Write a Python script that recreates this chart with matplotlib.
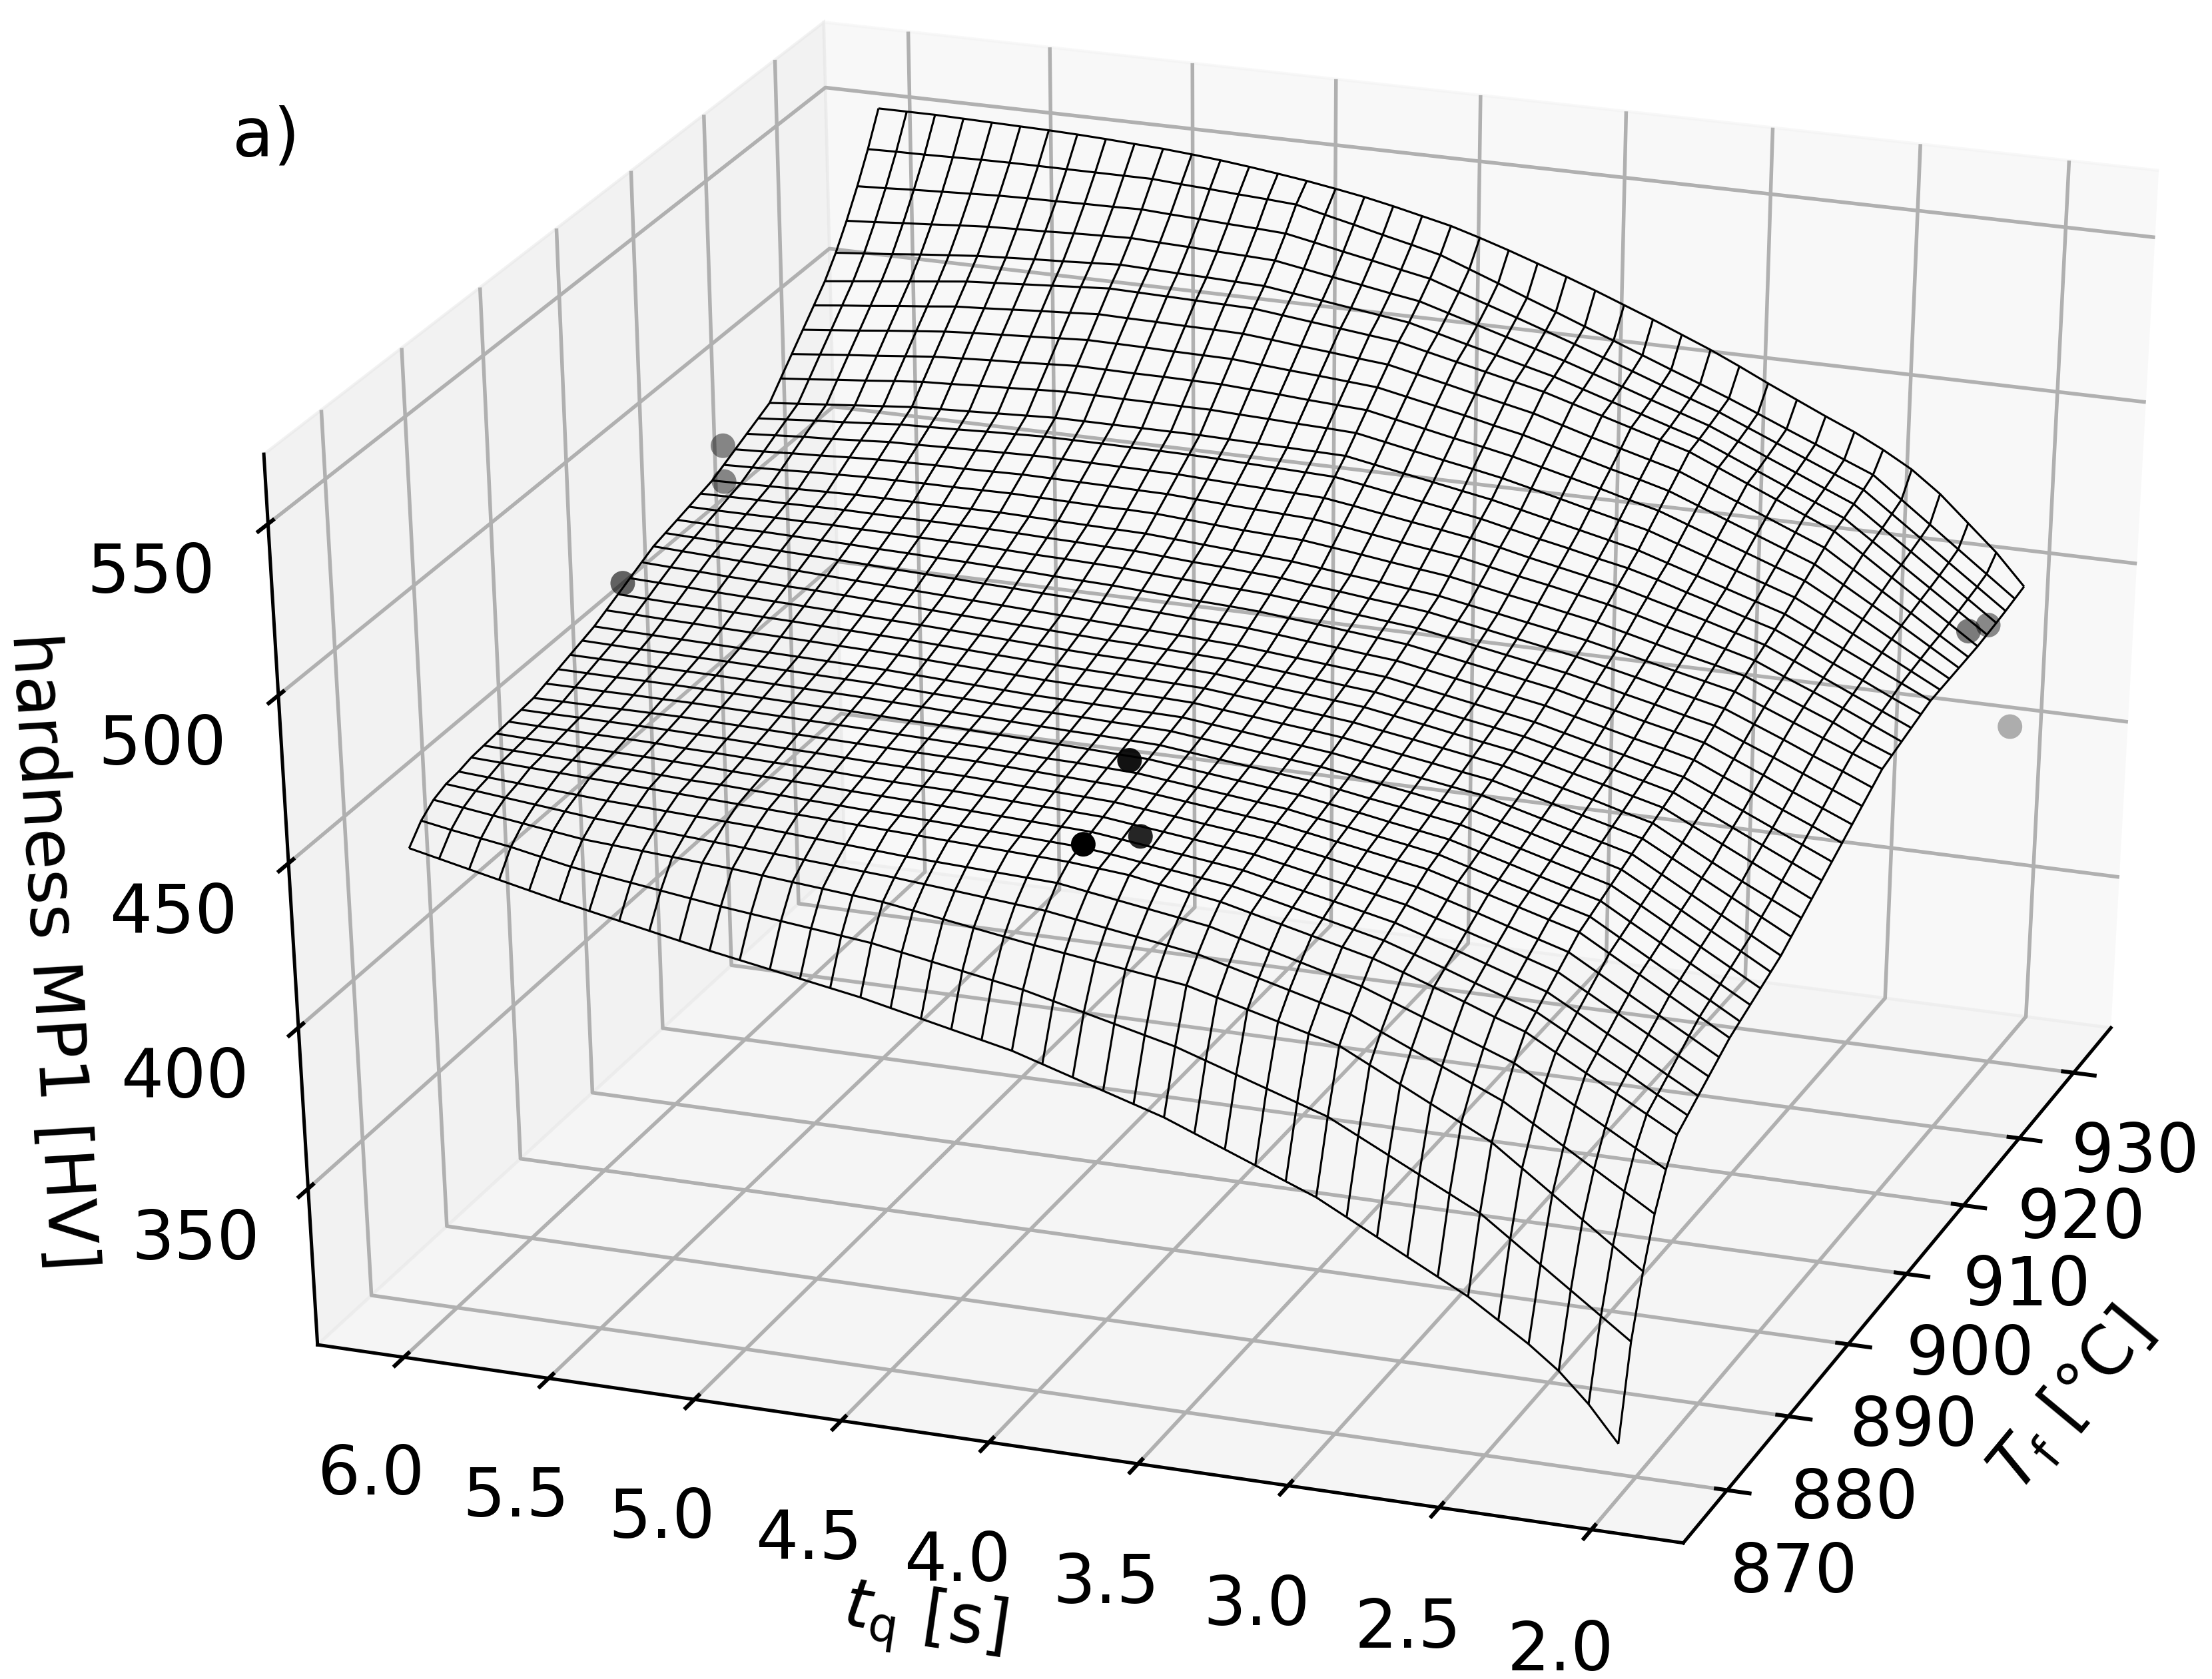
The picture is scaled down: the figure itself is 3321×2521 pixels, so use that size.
import numpy as np
import matplotlib
matplotlib.use('Agg')
import matplotlib.pyplot as plt
from matplotlib.transforms import offset_copy

plt.rcParams['grid.linewidth'] = 1.2
plt.rcParams['axes.linewidth'] = 1.1
plt.rcParams['xtick.major.width'] = 1.3
plt.rcParams['ytick.major.width'] = 1.3

# grid lines of the mesh, one row of hv_mesh per tf, one column per tq
tf = [867.0, 868.64, 870.28, 871.91, 873.55, 875.19, 876.83, 878.46, 880.1, 881.74, 883.38, 885.01, 886.65, 888.29,
      889.93, 891.56, 893.2, 894.84, 896.48, 898.11, 899.75, 901.39, 903.03, 904.66, 906.3, 907.94, 909.58, 911.21,
      912.85, 914.49, 916.13, 917.76, 919.4, 921.04, 922.68, 924.31, 925.95, 927.59, 929.23, 930.86, 932.5]
tq = [6.0, 5.9, 5.8, 5.7, 5.6, 5.5, 5.4, 5.3, 5.2, 5.1, 5.0, 4.9, 4.8, 4.7, 4.6, 4.5, 4.4, 4.3, 4.2, 4.1,
      4.0, 3.9, 3.8, 3.7, 3.6, 3.5, 3.4, 3.3, 3.2, 3.1, 3.0, 2.9, 2.8, 2.7, 2.6, 2.5, 2.4, 2.3, 2.2, 2.1, 2.0]

# hardness estimated by eye: edges and every fifth mesh line, the nodes between are rough estimates
hv_mesh = [
 [450,448,446,444,442,440,438.2,436.4,434.6,432.8,431,429.4,427.8,426.2,424.6,423,421,419,417,415,413,410.2,407.4,404.6,401.8,399,395.4,391.8,388.2,384.6,381,376.2,371.4,366.6,361.8,357,351,345,338,329,318],
 [455,453.4,452,450.6,448.8,447,445.8,444.6,443.4,442.2,441,440,439,438,437,436,434.4,432.8,431.2,429.6,428,425.8,423.6,421.4,419.2,417,414,411,408,405,402,397.4,392.8,388.2,383.6,379,372.4,365.8,359.2,352.6,346],
 [458,456.8,455.6,454.4,453.2,452,451.4,450.8,450.2,449.6,449,448.2,447.4,446.6,445.8,445,443.6,442.2,440.8,439.4,438,436.8,435.6,434.4,433.2,432,429.6,427.2,424.8,422.4,420,415.4,410.8,406.2,401.6,397,390.4,383.8,377.2,370.6,364],
 [459.5,458.6,457.7,456.8,455.9,455,454.4,453.8,453.2,452.6,452,451.4,450.8,450.2,449.6,449,448.2,447.4,446.6,445.8,445,443.6,442.2,440.8,439.4,438,435.6,433.2,430.8,428.4,426,422,418,414,410,406,400.4,394.8,389.2,383.6,378],
 [460,459.4,458.8,458.2,457.6,457,456.6,456.2,455.8,455.4,455,454.4,453.8,453.2,452.6,452,451.6,451.2,450.8,450.4,450,448.6,447.2,445.8,444.4,443,440.6,438.2,435.8,433.4,431,427.6,424.2,420.8,417.4,414,408.8,403.6,398.4,393.2,388],
 [461,460.6,460.2,459.8,459.4,459,458.6,458.2,457.8,457.4,457,456.6,456.2,455.8,455.4,455,454.6,454.2,453.8,453.4,453,452.2,451.4,449.8,448.4,447,444.8,442.6,440.4,438.2,436,433,429.8,426.6,423.2,420,415,410,405,400,395],
 [461.4,461,460.7,460.4,460.1,459.8,459.4,459,458.8,458.4,458,457.6,457.2,456.8,456.5,456.2,455.8,455.4,455,454.6,454.2,453.2,452,450.8,449.6,448.4,446.4,444.3,442.2,440.1,438,435,432,428.8,425.7,422.6,417.6,412.6,407.6,402.4,397.4],
 [461.8,461.5,461.3,461,460.8,460.6,460.3,460,459.6,459.3,459,458.7,458.3,458,457.7,457.4,457,456.6,456.2,455.8,455.4,454.3,453.2,452.1,451,449.8,447.8,445.9,444,442,440,437.1,434.2,431.2,428.2,425.2,420.2,415,410,404.8,399.8],
 [462.2,462,461.9,461.7,461.6,461.4,461,460.8,460.5,460.2,460,459.7,459.3,459,458.8,458.6,458.2,457.8,457.4,457,456.6,455.5,454.5,453.4,452.3,451.2,449.4,447.6,445.8,443.9,442,439.2,436.4,433.6,430.7,427.8,422.7,417.6,412.5,407.3,402.2],
 [462.6,462.5,462.5,462.4,462.3,462.2,462,461.8,461.5,461.2,461,460.7,460.4,460.2,460,459.8,459.4,459,458.6,458.2,457.8,456.8,455.8,454.7,453.7,452.6,451,449.4,447.6,445.8,444,441.3,438.6,435.8,433.1,430.4,425.2,420,414.9,409.8,404.6],
 [463,463,463,463,463,463,462.8,462.6,462.4,462.2,462,461.8,461.6,461.4,461.2,461,460.6,460.2,459.8,459.4,459,458,457,456,455,454,452.4,450.8,449.2,447.6,446,443.4,440.8,438.2,435.6,433,427.8,422.6,417.4,412.2,407],
 [464.2,464.2,464.1,464.1,464,464,463.8,463.6,463.4,463.2,463,462.8,462.5,462.3,462,461.8,461.4,461,460.8,460.4,460,459,458,457,456,455,453.4,451.9,450.3,448.8,447.2,444.6,442,439.5,436.9,434.4,429.2,424,418.8,413.8,408.6],
 [465.4,465.3,465.2,465.2,465.1,465,464.8,464.6,464.4,464.2,464,463.7,463.4,463.2,462.9,462.6,462.3,462,461.7,461.3,461,460,459,458,457,456,454.5,453,451.4,449.9,448.4,445.9,443.4,440.8,438.3,435.8,430.6,425.5,420.4,415.3,410.2],
 [466.6,466.5,466.4,466.2,466.1,466,465.8,465.6,465.4,465.2,465,464.7,464.4,464,463.7,463.4,463.1,462.8,462.6,462.3,462,461,460,459,458,457,455.5,454,452.6,451.1,449.6,447.2,444.7,442.2,439.7,437.2,432.2,427.1,422,416.9,411.8],
 [467.8,467.6,467.4,467.3,467.1,467,466.8,466.6,466.4,466.2,466,465.6,465.2,464.9,464.5,464.2,464,463.8,463.5,463.3,463,462,461,460,459,458,456.6,455.1,453.7,452.2,450.8,448.4,446,443.5,441.1,438.6,433.6,428.6,423.5,418.5,413.4],
 [469,468.8,468.6,468.4,468.2,468,467.8,467.6,467.4,467.2,467,466.6,466.2,465.8,465.4,465,464.8,464.6,464.4,464.2,464,463,462,461,460,459,457.6,456.2,454.8,453.4,452,449.6,447.2,444.8,442.4,440,435,430,425,420,415],
 [470.8,470.6,470.3,470.1,469.8,469.6,469.4,469.2,468.9,468.7,468.4,468,467.6,467.2,466.8,466.4,466.2,466,465.7,465.5,465.2,464.2,463.3,462.3,461.4,460.4,459,457.5,456.1,454.6,453.2,450.8,448.5,446.1,443.8,441.4,436.6,431.8,427,422.2,417.4],
 [472.6,472.3,472,471.8,471.5,471.2,471,470.7,470.4,470.1,469.8,469.4,469,468.6,468.2,467.8,467.5,467.3,467,466.7,466.4,465.5,464.6,463.6,462.7,461.8,460.3,458.9,457.4,455.9,454.4,452.2,449.9,447.6,445.1,442.8,438,433.2,428.6,424.2,419.8],
 [474.4,474.1,473.8,473.4,473.1,472.8,472.5,472.2,471.8,471.5,471.2,470.8,470.4,470,469.6,469.2,468.9,468.7,468.4,468,467.6,466.7,465.8,465,464.1,463.2,461.7,460.2,458.6,457.1,455.6,453.4,451.1,448.9,446.5,444.2,439.8,435.4,431,426.6,422.2],
 [476.2,475.8,475.5,475.1,474.8,474.4,474.2,473.8,473.4,473,472.6,472.2,471.8,471.4,471,470.6,470.2,470,469.6,469.2,468.8,468,467.2,466.3,465.4,464.6,463,461.5,459.9,458.4,456.8,454.6,452.4,450.2,447.9,445.6,441.4,437.2,433,428.8,424.6],
 [478,477.6,477.2,476.8,476.4,476,475.6,475.2,474.8,474.4,474,473.6,473.2,472.8,472.4,472,471.6,471.2,470.8,470.4,470,469.2,468.4,467.6,466.8,466,464.4,462.8,461.2,459.6,458,455.8,453.6,451.4,449.2,447,443,439,435,431,427],
 [479,478.7,478.4,478.2,477.9,477.6,477.3,477,476.6,476.3,476,475.6,475.3,474.9,474.6,474.2,473.8,473.4,472.9,472.5,472,471.2,470.3,469.5,468.6,467.8,466.2,464.6,463,461.4,459.8,457.6,455.4,453.2,451.2,449,445,441.2,437.2,433.4,429.4],
 [480,479.8,479.6,479.6,479.4,479.2,479,478.7,478.5,478.2,478,477.7,477.4,477,476.7,476.4,475.9,475.4,474.9,474.5,474,473.1,472.3,471.4,470.5,469.6,468,466.4,464.8,463.2,461.6,459.4,457.4,455.2,453.2,451,447.2,443.4,439.4,435.6,431.8],
 [481,480.9,480.9,480.9,480.8,480.8,480.6,480.5,480.3,480.2,480,479.7,479.4,479.2,478.9,478.6,478,477.5,477,476.5,476,475.1,474.2,473.2,472.3,471.4,469.8,468.2,466.6,465,463.4,461.4,459.2,457.2,455,453,449.2,445.6,441.8,438,434.2],
 [482,482.1,482.2,482.2,482.3,482.4,482.3,482.2,482.2,482.1,482,481.8,481.5,481.3,481,480.8,480.2,479.6,479.2,478.6,478,477,476.1,475.1,474.2,473.2,471.6,470,468.4,466.8,465.2,463.2,461.2,459,457,455,451.4,447.8,444,440.4,436.6],
 [483,483.2,483.4,483.6,483.8,484,484,484,484,484,484,483.8,483.6,483.4,483.2,483,482.4,481.8,481.2,480.6,480,479,478,477,476,475,473.4,471.8,470.2,468.6,467,465,463,461,459,457,453.4,449.8,446.2,442.6,439],
 [484.8,485.1,485.4,485.8,486.1,486.4,486.5,486.6,486.6,486.7,486.8,486.6,486.4,486.2,486.2,486,485.4,484.8,484.2,483.8,483.4,482.3,481.2,480,478.9,477.8,476.1,474.4,472.8,471.1,469.4,467.2,465,462.8,460.8,458.6,455,451.4,447.8,443.6,440],
 [486.6,487,487.5,487.9,488.4,488.8,489,489.2,489.2,489.4,489.6,489.5,489.4,489.3,489.1,489,488.5,488,487.6,487.2,486.8,485.6,484.3,483,481.8,480.6,478.8,477,475.4,473.6,471.8,469.6,467.2,465,462.6,460.2,456.4,452.8,449,445,441],
 [488.4,489,489.6,490,490.6,491.2,491.4,491.7,491.9,492.2,492.4,492.4,492.3,492.2,492.1,492,491.6,491.2,490.9,490.6,490.2,488.9,487.5,486.1,484.8,483.4,481.6,479.6,477.8,476,474.2,471.8,469.4,467,464.4,461.8,458,454,450,446,442],
 [490.2,490.9,491.6,492.2,492.9,493.6,493.9,494.2,494.6,494.9,495.2,495.2,495.2,495.1,495.1,495,494.8,494.5,494.2,493.9,493.6,492.2,490.7,489.2,487.7,486.2,484.2,482.2,480.4,478.4,476.6,474.2,471.4,468.8,466,463.4,459.4,455.2,451.2,447,443],
 [492,492.8,493.6,494.4,495.2,496,496.4,496.8,497.2,497.6,498,498,498,498,498,498,497.8,497.6,497.4,497.2,497,495.4,493.8,492.2,490.6,489,487,485,483,481,479,476.2,473.4,470.6,467.8,465,460.8,456.6,452.4,448.2,444],
 [496.6,497.4,498.3,499.1,500,500.8,501.2,501.7,502.1,502.6,503,503,502.9,502.9,502.8,502.8,502.4,502.1,501.7,501.4,501,499.3,497.6,495.9,494.3,492.6,490.5,488.4,486.2,484.1,482,479,476,473,470,467,462.6,458,453.4,448.8,444.2],
 [501.2,502.1,503,503.8,504.7,505.6,506.1,506.6,507,507.5,508,507.9,507.8,507.8,507.7,507.6,507.1,506.6,506,505.5,505,503.2,501.4,499.6,498,496.2,494,491.8,489.6,487.2,485,481.8,478.6,475.4,472.2,469,464.2,459.4,454.4,449.4,444.4],
 [505.8,506.7,507.6,508.6,509.5,510.4,511,511.5,512,512.5,513,512.9,512.8,512.6,512.5,512.4,511.7,511,510.4,509.7,509,507.2,505.4,503.6,501.6,499.8,497.4,495,492.6,490.4,488,484.6,481.2,477.8,474.4,471,465.8,460.6,455.4,450,444.6],
 [510.4,511.4,512.3,513.3,514.2,515.2,515.7,516.3,516.9,517.4,518,517.8,517.7,517.5,517.4,517.2,516.4,515.5,514.7,513.8,513,511.1,509.2,507.2,505.3,503.4,500.8,498.2,495.8,493.4,491,487.4,483.8,480.2,476.6,473,467.4,461.8,456.2,450.4,444.8],
 [515,516,517,518,519,520,520.6,521.2,521.8,522.4,523,522.8,522.6,522.4,522.2,522,521,520,519,518,517,515,513,511,509,507,504.4,501.8,499.2,496.6,494,490.2,486.4,482.6,478.8,475,469,463,457,451,445],
 [520.9,521.7,522.5,523.4,524.2,525,525.5,526,526.4,526.9,527.4,527.1,526.8,526.6,526.3,526,524.8,523.6,522.4,521.2,520,517.7,515.4,513.2,510.9,508.7,505.9,503.1,500.4,497.6,494.9,491.1,487.3,483.5,479.8,476,469.9,463.8,457.7,451.6,445.5],
 [527.9,528.5,529.2,529.8,530.5,531.1,531.4,531.7,532.1,532.4,532.7,532.3,532,531.6,531.3,530.9,529.4,527.9,526.5,525,523.6,521,518.4,515.8,513.2,510.6,507.7,504.8,501.8,498.9,496,492.3,488.5,484.8,481,477.3,471,464.8,458.5,452.3,446],
 [535.7,536.1,536.6,537,537.4,537.8,538,538.1,538.3,538.4,538.6,538.1,537.7,537.2,536.8,536.3,534.6,532.8,531.1,529.3,527.6,524.6,521.7,518.8,515.8,512.8,509.7,506.6,503.4,500.3,497.2,493.5,489.8,486.1,482.4,478.7,472.3,465.9,459.4,453,446.6],
 [544.3,544.5,544.6,544.8,545,545.1,545.1,545.1,545.1,545.1,545.1,544.5,544,543.4,542.9,542.3,540.2,538.2,536.1,534.1,532,528.7,525.4,522,518.7,515.3,512,508.6,505.2,501.9,498.5,494.9,491.2,487.6,483.9,480.3,473.7,467.1,460.5,453.9,447.3],
 [554,554,554,553.8,553.6,553.4,553.2,552.9,552.5,552,551.5,550.8,550,549,547.9,546.7,545.3,543.8,542,540,538,535.4,532.6,529.6,526.6,523.4,520,516.6,513,509.4,505.4,501.2,497.2,493.2,489.4,485,480,473.5,465.5,457.5,448],
]

# measured points
pt_tf = [894, 908, 908, 883.5, 876, 885, 921.4, 925, 930]
pt_tq = [5.96, 5.96, 5.96, 3.99, 3.97, 3.99, 1.98, 1.98, 1.98]
pt_hv = [478, 494, 483, 467, 457, 441, 455.5, 450.5, 409]
pt_alpha = [0.6, 0.45, 0.45, 0.93, 1.0, 0.85, 0.5, 0.45, 0.3]

fig = plt.figure(figsize=(3321 / 330, 2521 / 330), dpi=330)
ax = fig.add_axes([-0.0006, 0.0307, 1.092, 1.0095], projection='3d')
ax.set_box_aspect((1, 1, 1))
ax.apply_aspect = lambda position=None: None  # stretch the box to the whole rectangle
ax.computed_zorder = False

X, Y = np.meshgrid(tf, tq, indexing='ij')
ax.plot_wireframe(X, Y, np.array(hv_mesh), color='k', lw=0.68, rcount=41, ccount=41, zorder=2)
ax.scatter(pt_tf, pt_tq, pt_hv, s=65, linewidths=0, depthshade=False, zorder=3,
           c=[(0, 0, 0, al) for al in pt_alpha])

ax.view_init(elev=30, azim=-160)
ax.set_xlim(863, 937)
ax.set_ylim(1.7, 6.3)
ax.set_zlim(300.5, 570)
ax.set_xlabel(r'$T_{\rm f}$ [°C]', fontsize=22, labelpad=23)
ax.set_ylabel(r'$t_{\rm q}$ [s]', fontsize=22, labelpad=24)
ax.set_zlabel('hardness MP1 [HV]', fontsize=22, labelpad=22)
ax.tick_params(axis='x', labelsize=22, pad=9)
ax.tick_params(axis='y', labelsize=22, pad=14)
ax.tick_params(axis='z', labelsize=22, pad=12.5)
# the Tf labels sit a little lower in the original
ax.get_xticklabels()
low = offset_copy(ax.transData, fig=fig, x=0, y=-75, units='dots')
for tick in ax.xaxis.get_major_ticks():
    tick.label1.set_transform(low)
fig.text(0.105, 0.907, 'a)', fontsize=22)
fig.savefig('out.png')
